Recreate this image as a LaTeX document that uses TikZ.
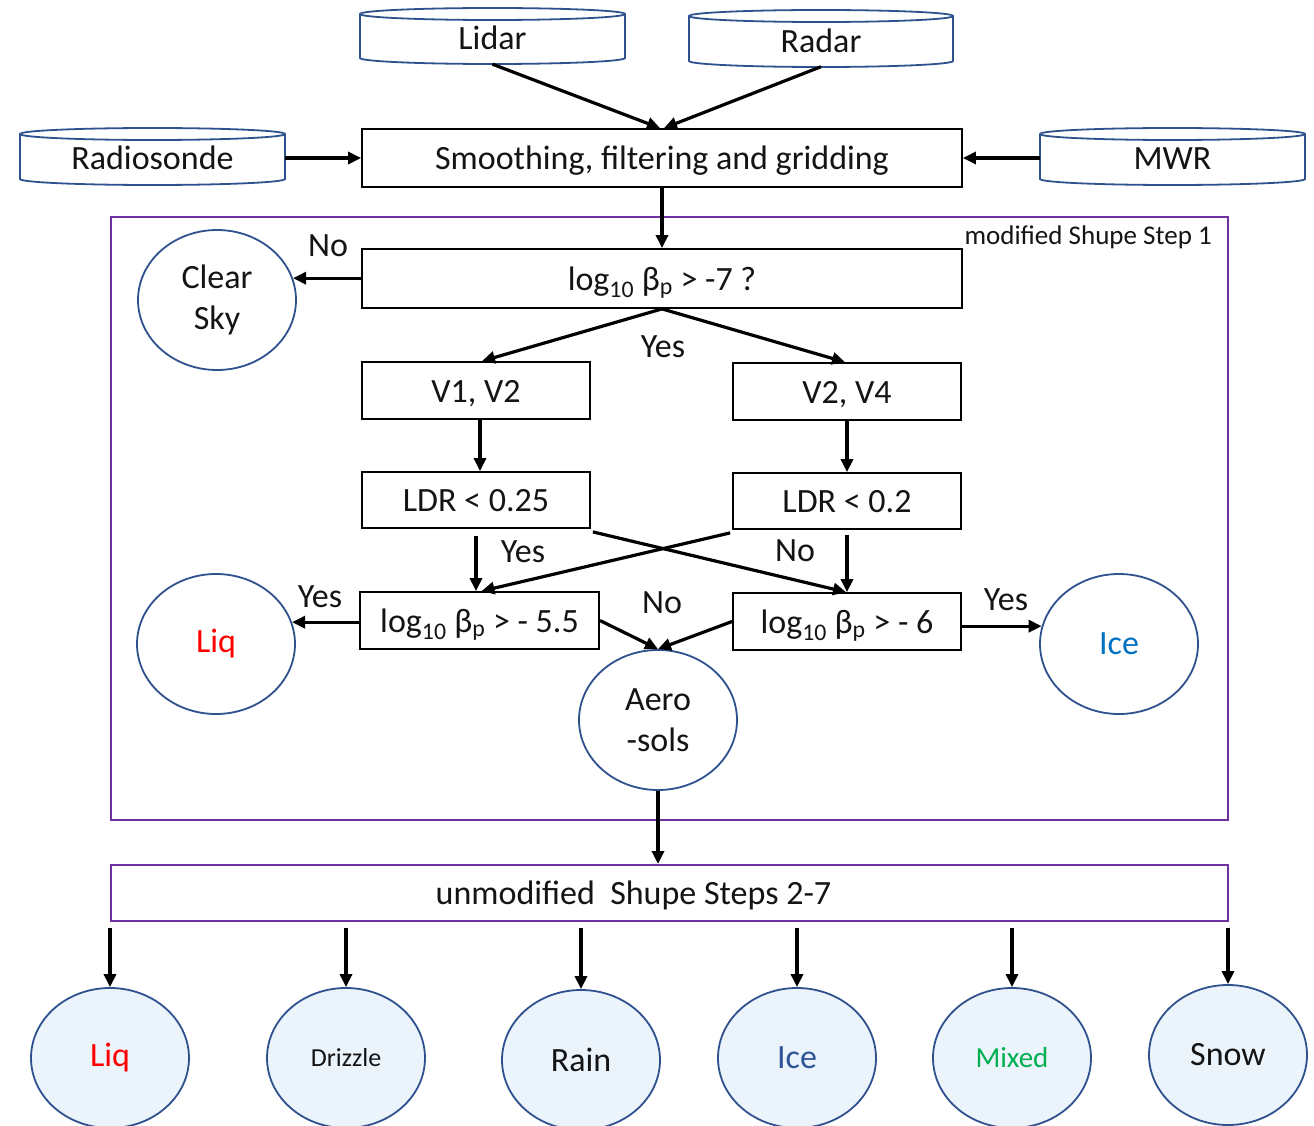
\documentclass[tikz,border=0pt]{standalone}
\usepackage{fontspec}
\setmainfont{Carlito}
\usetikzlibrary{shapes.geometric,arrows.meta,calc}
\definecolor{ellblue}{HTML}{2F528F}
\definecolor{ellfill}{HTML}{EBF3FB}
\definecolor{purp}{HTML}{7030A0}
\definecolor{iceblue}{HTML}{0070C0}
\definecolor{icedark}{HTML}{2F5597}
\definecolor{mixgreen}{HTML}{00B050}
\definecolor{liqred}{HTML}{FF0000}
\definecolor{txt}{HTML}{141414}
\newcommand\cylshape[5]{%
  \path[cylline] (#1,#3+6) -- (#1,#4-6)
    arc[start angle=180,end angle=360,x radius=#5pt,y radius=6pt]
    -- (#2,#3+6)
    arc[start angle=0,end angle=180,x radius=#5pt,y radius=6pt] -- cycle;
  \draw[cylline] (#1,#3+6) arc[start angle=180,end angle=360,x radius=#5pt,y radius=6pt];
}
\begin{document}
\begin{tikzpicture}[x=1pt,y=-1pt,
  base/.style={font=\fontsize{34}{41}\selectfont, text=txt},
  fixedtext/.style={text height=26pt, text depth=2.4pt},
  procbox/.style={base, fixedtext, draw=black, line width=1.8pt, inner sep=0pt, fill=white},
  cylnode/.style={base, fixedtext, inner sep=0pt, minimum width=265pt, minimum height=52pt},
  cylline/.style={draw=ellblue, line width=1.8pt, fill=white},
  oval/.style={base, ellipse, draw=ellblue, line width=1.8pt, minimum width=158pt,
    minimum height=140pt, inner sep=0pt, align=center, fill=white},
  ovalb/.style={oval, fill=ellfill},
  arr/.style={line width=3.2pt, -{Triangle[length=13pt,width=12pt]}},
  lbl/.style={base, inner sep=0pt},
  frm/.style={draw=purp, line width=2pt, inner sep=0pt}
]
\useasboundingbox (0,0) rectangle (1314,1126);
\clip (0,0) rectangle (1314,1126);
\fill[white] (0,0) rectangle (1314,1126);

% data sources
\cylshape{360}{625}{8}{64}{132.5}
\cylshape{689}{953}{10}{67}{132}
\cylshape{20}{285}{128}{185}{132.5}
\cylshape{1040}{1305}{128}{185}{132.5}
\node[cylnode] (lidar) at (492.5,38) {Lidar};
\node[cylnode] (radar) at (821,40.5) {Radar};
\node[cylnode] (rsonde) at (152.5,158) {Radiosonde};
\node[cylnode] (mwr) at (1172.5,158) {MWR};

\node[procbox, minimum width=600pt, minimum height=58pt] (smooth) at (662,158)
  {Smoothing, filtering and gridding};

\draw[arr] (lidar.south) -- ([xshift=-2pt]smooth.north);
\draw[arr] (radar.south) -- ([xshift=2pt]smooth.north);
\draw[arr] (rsonde.east) -- (smooth.west);
\draw[arr] (mwr.west) -- (smooth.east);

% modified Shupe step 1 frame
\node[frm, minimum width=1117pt, minimum height=603pt] (frame) at (669.5,518.5) {};
\node[base, font=\fontsize{27}{30}\selectfont, anchor=east, inner sep=0pt] (mlbl)
  at (1212,237) {modified Shupe Step 1};

\node[procbox, minimum width=600pt, minimum height=59pt] (log1) at (662,278.5)
  {log\textsubscript{10} β\textsubscript{p} > -7 ?};
\draw[arr] (smooth.south) -- (log1.north);

\node[oval] (clear) at (217,300) {Clear\\Sky};
\draw[arr] (log1.west |- clear.16) -- (clear.16);
\node[lbl] (no1) at (328,246) {No};
\node[lbl] (yes1) at (663,347) {Yes};

\node[procbox, minimum width=228pt, minimum height=57pt] (v12) at (476,390.5) {V1, V2};
\node[procbox, minimum width=228pt, minimum height=57pt] (v24) at (847,391.5) {V2, V4};
\draw[arr] (log1.south) -- ([xshift=6pt]v12.north);
\draw[arr] (log1.south) -- ([xshift=-2pt]v24.north);

\node[procbox, minimum width=228pt, minimum height=56pt] (ldr1) at (476,500) {LDR < 0.25};
\node[procbox, minimum width=228pt, minimum height=56pt] (ldr2) at (847,501) {LDR < 0.2};
\draw[arr] ([xshift=4pt]v12.south) -- ([xshift=4pt]ldr1.north);
\draw[arr] (v24.south) -- (ldr2.north);

\node[procbox, minimum width=239pt, minimum height=57pt] (log55) at (479.5,620.5)
  {log\textsubscript{10} β\textsubscript{p} > - 5.5};
\node[procbox, minimum width=228pt, minimum height=57pt] (log6) at (847,621.5)
  {log\textsubscript{10} β\textsubscript{p} > - 6};

\draw[arr] ([yshift=-7pt]ldr1.south) -- (ldr1.south |- log55.north);
\draw[arr] ([yshift=-5pt]ldr2.south) -- (log6.north);
\draw[arr] ([shift={(2pt,-3pt)}]ldr1.south east) -- ([xshift=-1pt]log6.north);
\draw[arr] ([shift={(-2pt,-3pt)}]ldr2.south west) -- ([xshift=2pt]log55.north);
\node[lbl] (yes2) at (523,552) {Yes};
\node[lbl] (no2) at (795,551) {No};

\node[oval] (liq) at (216,644) {\textcolor{liqred}{Liq}};
\node[oval] (ice) at (1119,644) {\textcolor{iceblue}{Ice}};
\node[oval] (aero) at (658,720) {Aero\\-sols};
\draw[arr] (log55.west |- liq.16) -- (liq.16);
\draw[arr] (log6.east |- ice.167) -- (ice.167);
\draw[arr] (log55.east) -- (aero.north);
\draw[arr] (log6.west) -- (aero.north);
\node[lbl] (yes3) at (320,597) {Yes};
\node[lbl] (yes4) at (1006,600) {Yes};
\node[lbl] (no3) at (662,603) {No};

% unmodified steps
\node[frm, base, fixedtext, minimum width=1117pt, minimum height=56pt] (unmod) at (669.5,893)
  {unmodified\ \ Shupe Steps 2-7\hspace*{72pt}\mbox{}};
\draw[arr] (aero.south) -- (aero.south |- unmod.north);

\node[ovalb] (liqb) at (110,1058) {\textcolor{liqred}{Liq}};
\node[ovalb, font=\fontsize{26}{30}\selectfont] (drz) at (346,1058) {Drizzle};
\node[ovalb] (rain) at (581,1060) {Rain};
\node[ovalb] (iceb) at (797,1058) {\textcolor{icedark}{Ice}};
\node[ovalb, font=\fontsize{29}{34}\selectfont] (mix) at (1012,1058) {\textcolor{mixgreen}{Mixed}};
\node[ovalb] (snow) at (1228,1055) {Snow};
\foreach \n in {liqb,drz,rain,iceb,mix,snow}{
  \draw[arr] ($(unmod.south -| \n.north)+(0,6)$) -- (\n.north);
}
\end{tikzpicture}
\end{document}
